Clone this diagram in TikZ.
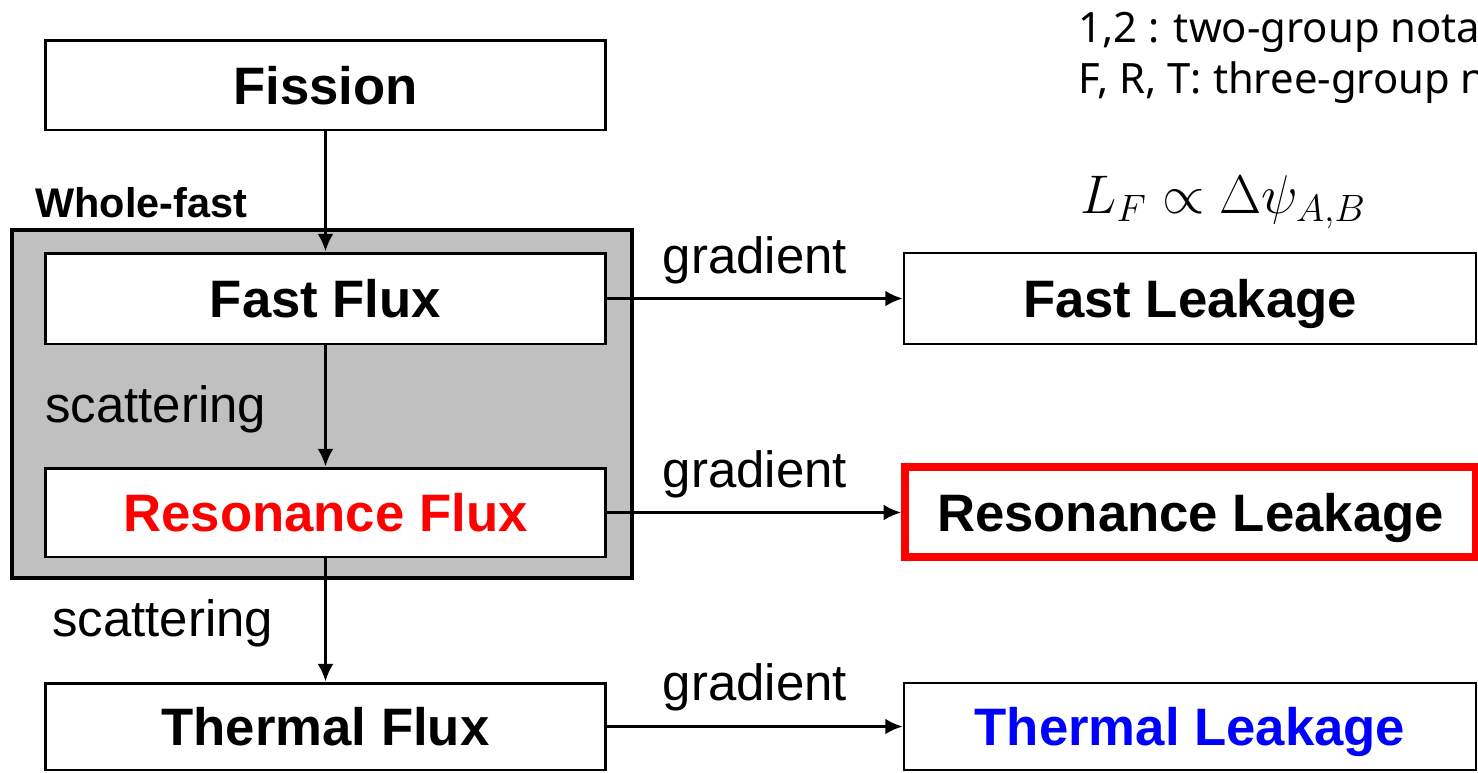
\documentclass[tikz,border=0pt]{standalone}
\usepackage{fix-cm}
\usepackage{fontspec}
\setmainfont{Liberation Sans}
\newfontfamily\notefont{Noto Sans}
\usetikzlibrary{arrows.meta}
\definecolor{boxgray}{RGB}{192,192,192}
\definecolor{pured}{RGB}{255,0,0}
\definecolor{pureblue}{RGB}{0,0,255}
\tikzset{
  fluxbox/.style={draw=black, line width=1.7pt, fill=white, inner sep=0pt,
    minimum width=11.22cm, text depth=0pt, font=\fontsize{30}{36}\selectfont\bfseries},
  leakbox/.style={draw=black, line width=1.4pt, fill=white, inner sep=0pt,
    minimum width=11.44cm, text depth=0pt, font=\fontsize{30}{36}\selectfont\bfseries},
  flowarrow/.style={line width=1.7pt, -{Latex[length=10pt,width=9pt]}},
  lbl/.style={inner sep=0pt, font=\fontsize{29}{34}\selectfont},
  notetext/.style={inner sep=0pt, anchor=base west, font=\notefont\fontsize{23.8}{28}\selectfont}
}
\begin{document}
\begin{tikzpicture}[x=0.02cm, y=-0.02cm]
\clip (0,0) rectangle (1478,772);
\useasboundingbox (0,0) rectangle (1478,772);
% group box
\node[draw=black, line width=2.2pt, fill=boxgray, inner sep=0pt,
      minimum width=12.4cm, minimum height=6.96cm] (whole) at (322,404) {};
\node[inner sep=0pt, anchor=base west, font=\fontsize{23.6}{28}\selectfont\bfseries] (wf) at (35,217) {Whole-fast};
% flux boxes
\node[fluxbox, minimum height=1.8cm] (fission) at (325.5,85) {Fission};
\node[fluxbox, minimum height=1.82cm] (fast) at (325.5,298.5) {Fast Flux};
\node[fluxbox, minimum height=1.78cm] (res) at (325.5,512.5) {\color{pured}Resonance Flux};
\node[fluxbox, minimum height=1.74cm] (th) at (325.5,726.5) {Thermal Flux};
% leakage boxes
\node[leakbox, minimum height=1.82cm] (fl) at (1190,298.5) {Fast Leakage};
\node[leakbox, draw=pured, line width=4.3pt, minimum height=1.8cm, minimum width=11.42cm] (rl) at (1190.5,512) {Resonance Leakage};
\node[leakbox, minimum height=1.74cm] (tl) at (1190,726.5) {\color{pureblue}Thermal Leakage};
% vertical arrows
\draw[flowarrow] (fission) -- (fast);
\draw[flowarrow] (fast) -- (res);
\draw[flowarrow] (res) -- (th);
% horizontal arrows
\draw[flowarrow] (fast.east) -- (fast.east -| fl.west);
\draw[flowarrow] (res.east) -- (res.east -| rl.west);
\draw[flowarrow] (th.east) -- (th.east -| tl.west);
% labels
\node[lbl, anchor=base] (g1) at (755,273) {gradient};
\node[lbl, anchor=base] (g2) at (755,487) {gradient};
\node[lbl, anchor=base] (g3) at (755,700) {gradient};
\node[lbl, anchor=base west] (s1) at (45,422) {scattering};
\node[lbl, anchor=base west] (s2) at (52,636) {scattering};
% notes
\node[notetext] (n1) at (1078,42) {1,2 : two-group notation};
\node[notetext] (n2) at (1078,93) {F, R, T: three-group notation};
\node[inner sep=0pt, anchor=base west] (eq) at (1080,213) {\fontsize{31}{38}\selectfont $L_F \propto \Delta\psi_{A,B}$};
\end{tikzpicture}
\end{document}
